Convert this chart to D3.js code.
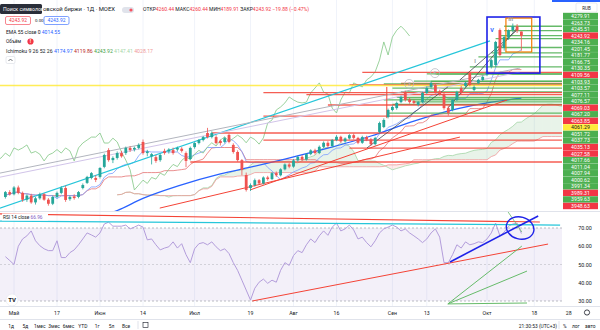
<!DOCTYPE html>
<html><head><meta charset="utf-8">
<script src="https://cdnjs.cloudflare.com/ajax/libs/d3/7.8.5/d3.min.js"></script>
<style>body{margin:0;background:#fff}svg{display:block;font-family:Roboto,'Liberation Sans',sans-serif}</style>
</head><body><svg id="chart" width="600" height="330"></svg>
<script>
// daily candles [open, high, low, close], May 2021 .. Oct 13 2021
const ohlc = [
  [3650,3672,3644,3668],[3668,3675,3655,3660],[3660,3690,3656,3685],[3685,3692,3660,3665],
  [3665,3670,3632,3640],[3640,3660,3632,3655],[3655,3662,3625,3630],[3630,3650,3622,3645],
  [3645,3666,3640,3660],[3660,3664,3636,3640],[3640,3646,3618,3625],[3625,3655,3620,3650],
  [3650,3670,3645,3665],[3665,3690,3660,3683],
  [3683,3692,3632,3639],[3642,3655,3636,3650],[3652,3660,3640,3646],[3650,3672,3645,3668],
  [3683,3700,3678,3694],[3702,3728,3698,3724],[3720,3742,3715,3738],[3720,3730,3705,3713],
  [3724,3760,3718,3757],[3761,3810,3756,3805],[3823,3830,3780,3786],[3786,3800,3775,3794],
  [3794,3818,3788,3812],[3812,3820,3795,3800],[3812,3836,3805,3831],[3831,3838,3816,3823],
  [3825,3836,3818,3831],[3831,3848,3826,3842],[3853,3862,3806,3812],[3812,3824,3800,3818],
  [3800,3812,3770,3808],[3797,3805,3776,3783],[3786,3810,3780,3805],[3820,3828,3806,3812],
  [3818,3830,3810,3825],[3823,3832,3806,3812],[3825,3836,3818,3831],[3828,3834,3814,3820],
  [3812,3818,3760,3783],[3790,3836,3785,3831],[3834,3852,3828,3849],[3849,3864,3844,3860],
  [3860,3875,3855,3871],[3886,3905,3866,3871],[3871,3892,3866,3886],[3871,3878,3844,3849],
  [3857,3862,3840,3849],[3853,3872,3848,3867],[3879,3884,3848,3853],[3842,3848,3810,3816],
  [3816,3822,3780,3786],[3786,3790,3730,3750],[3731,3740,3670,3676],[3683,3700,3672,3694],
  [3694,3718,3688,3712],[3712,3716,3695,3700],[3700,3726,3696,3722],[3722,3728,3710,3716],
  [3716,3742,3712,3738],[3738,3744,3724,3730],[3730,3756,3726,3752],[3752,3774,3748,3770],
  [3770,3776,3756,3762],[3762,3790,3758,3785],[3785,3802,3780,3798],[3798,3804,3782,3788],
  [3788,3812,3784,3808],[3808,3826,3804,3822],[3822,3828,3806,3812],[3812,3840,3808,3835],
  [3835,3855,3830,3850],[3850,3856,3832,3838],[3838,3864,3834,3860],[3860,3878,3856,3872],
  [3872,3876,3850,3855],[3855,3870,3850,3866],[3866,3882,3862,3878],[3878,3884,3862,3868],
  [3868,3872,3845,3850],
  [3850,3876,3846,3871],[3871,3876,3856,3862],[3862,3868,3838,3845],[3845,3872,3840,3868],
  [3890,3928,3885,3923],[3908,3940,3904,3934],[3945,3976,3940,3971],[3971,3988,3966,3982],
  [3978,4002,3972,3997],[4000,4024,3996,4019],[4034,4042,4002,4008],[4010,4016,3994,4000],
  [4004,4010,3990,3997],[3990,4004,3984,4000],[4000,4038,3996,4034],[4034,4058,4030,4052],
  [4056,4076,4050,4071],[4063,4070,4032,4037],[4040,4046,4024,4030],[4030,4034,3972,3978],
  [3978,3986,3950,3960],[3971,4012,3966,4008],[4008,4042,4004,4037],[4052,4060,4028,4034],
  [4060,4076,4054,4071],[4108,4114,4058,4063],[4045,4062,4040,4056],[4071,4086,4066,4082],
  [4082,4098,4078,4093],[4100,4116,4096,4112],[4130,4160,4124,4155],[4137,4226,4130,4222],
  [4266,4272,4168,4174],[4200,4245,4190,4240],[4238,4268,4230,4265],[4266,4290,4258,4280],
  [4280,4288,4255,4263.8],[4260.44,4260.44,4189.91,4243.92]
];

// RSI 14: [bar, value]
const rsiPoints = [
  [0,54.3],[1,52.2],[2,50],[3,60],[4,64],[5,65.7],[6,68.4],[7,63],[8,60.3],[9,58.6],[10,57.6],
  [11,57.6],[12,63],[13,53.8],[14,53.8],[15,56.5],[16,58],[17,60.8],[18,64],[19,67.3],[20,66.2],
  [21,65],[22,67.3],[23,72.2],[24,73.2],[25,71],[26,71],[27,71],[28,71.6],[29,69.5],[30,70.5],
  [31,71.6],[32,70.5],[33,63.5],[34,64],[35,60.8],[36,58],[37,59],[38,59.7],[39,62.4],[40,59],
  [41,61.4],[42,55.4],[43,51],[44,58.6],[45,61.4],[46,62],[47,60.8],[48,62.4],[49,59.7],[50,57.6],
  [51,58.6],[52,56],[53,51],[54,46.8],[55,41.4],[56,36],[57,30.5],[58,37],[59,40.3],[60,42],
  [61,39.7],[62,41.4],[63,40.3],[64,46.8],[65,51],[66,49.5],[67,54.9],[68,57.6],[69,56.5],[70,60.8],
  [71,64],[72,62],[73,65.7],[74,68.4],[75,66],[76,70.5],[77,72.7],[78,68.4],[79,69.5],[80,71.6],
  [81,68.9],[82,64],[83,65],[84,62],[85,59.7],[86,63],[87,67.3],[88,69.5],[89,70.5],[90,71.6],
  [91,70.5],[92,68.4],[93,69.5],[94,67.3],[95,65.7],[96,64],[97,62],[98,64],[99,67.3],[100,69.5],
  [101,65],[102,51],[103,51],[104,55.4],[105,60.8],[106,59],[107,62.4],[108,60.8],[109,61.4],[110,62.4],
  [111,62],[112,64],[113,67.3],[114,72.7],[115,65.7],[116,67.8],[117,71],[118,72.2],[119,72.7],[120,66.96]
];

// EMA 55: [bar, value]
const emaPoints = [[14,3540],[20,3570],[26,3600],[32,3645],[40,3690],[50,3735],[57,3760],[65,3790],
  [75,3830],[85,3875],[95,3930],[105,3975],[113,4000],[120,4014.55]];

// price-scale tags, top to bottom
const tags = [
  ['4279.91','g'],['4263.73','g'],['4245.51','g'],['4243.92','r'],['4234.16','g'],['4201.45','g'],
  ['4181.77','g'],['4166.75','g'],['4130.35','g'],['4109.56','r'],['4103.93','g'],['4103.57','g'],
  ['4077.11','g'],['4076.57','g'],['4069.03','r'],['4067.20','g'],['4063.85','r'],['4061.29','y'],
  ['4051.72','g'],['4037.73','g'],['4035.13','r'],['4027.58','r'],['4017.66','g'],['4011.04','g'],
  ['4007.94','g'],['4000.62','g'],['3991.34','g'],['3989.31','r'],['3959.63','g'],['3948.63','r']
];
// horizontal levels: [price, colour, first bar]
const levels = [
  [4279.91,'g',116],[4263.73,'g',116],[4245.51,'g',115],[4234.16,'g',114],[4201.45,'g',114],
  [4181.77,'g',113],[4166.75,'g',110],[4130.35,'g',108],[4109.56,'r',83],[4103.93,'g',98],
  [4103.57,'g',100],[4077.11,'g',95],[4076.57,'g',99],[4069.03,'r',92],[4067.20,'g',88],
  [4063.85,'r',80],[4061.29,'y',-2],[4051.72,'g',90],[4037.73,'g',92],[4035.13,'r',60],
  [4027.58,'r',70],[4017.66,'g',91],[4011.04,'g',93],[4007.94,'g',88],[4000.62,'g',95],
  [3991.34,'g',90],[3989.31,'r',75],[3959.63,'g',89],[3948.63,'r',60],
  [3886,'r',48],[3860,'r',60],[3830,'r',80],[3779,'r',43]
];
// sloped trend lines on the price pane: [bar1, price1, bar2, price2, colour, width]
const trendLines = [
  [-1.3,3609,112.7,4226,'#26c6da',1.2],
  [-1.3,3738,119.7,4126,'#b2b5be',1],
  [-1.3,3723,119.7,4111,'#d1c4e9',1],
  [35.9,3609,105.7,3871,'#f44336',1],
  [56.9,3676,116.7,4008,'#f44336',1],
  [88.7,4056,88.7,3941,'#f44336',1],
  [84.1,3831,102.9,4056,'#434651',0.8],
  [102.9,3978,119,4273,'#434651',0.8],
  [105.7,4082,119,4266,'#434651',0.8]
];
// numbered wave marks: [bar, price, label]
const waveMarks = [[93.9,4067,'3'],[99.9,4107,'5']];
// text marks: [bar, price, label, colour]
const textMarks = [[113.2,4259,'V','#2962ff'],[117.5,4300,'III','#9598a1'],[109.2,4145,'I','#9598a1']];
// boxes: [bar1, price1, bar2, price2, colour, width]
const boxes = [[112,4314,124.3,4107,'#1e22e8',1.6],[116.4,4310,122.4,4185,'#f57c00',1.2]];

// RSI pane drawings: [bar1, rsi1, bar2, rsi2, colour, width]
const rsiLines = [
  [-1.3,77.7,124.3,73.3,'#f44336',1.2],
  [-1.3,73.8,129,71.6,'#26c6da',1.2],
  [57.4,30,126.2,61.2,'#f44336',1],
  [103.4,51.4,123.9,76.6,'#1e22e8',1.6],
  [102.9,28.4,120.1,60.1,'#66bb6a',1],
  [102.9,28.4,121.3,46.4,'#66bb6a',1],
  [102.9,28.4,121.3,28.9,'#66bb6a',1],
  [116.9,78.8,120.1,67.8,'#66bb6a',0.8]
];
const rsiEllipse = [119.7,70];

// time axis: [bar, label]
const timeTicks = [[2,'Май'],[12,'17'],[22,'Июн'],[32,'14'],[44,'Июл'],[57,'19'],[67,'Авг'],
  [77,'16'],[90,'Сен'],[98,'13'],[112,'Окт'],[123,'18'],[131,'28']];
const rsiTicks = [70,60,50,40,30];

const svg = d3.select('#chart');
const plotR = 562, mainBot = 211, rsiTop = 212, rsiBot = 306;
const x = d3.scaleLinear().domain([0,131]).range([5.4,568.7]);
const y = d3.scaleLinear().domain([3598.25,4376.8]).range([mainBot,0]);
const yr = d3.scaleLinear().domain([30,70]).range([301,228]);
const GREEN = '#26a69a', RED = '#ef5350';
const lvlColor = {g:'#4caf50', r:'#f44336', y:'#ffeb3b'};

const defs = svg.append('defs');
defs.append('clipPath').attr('id','clipMain').append('rect').attr('x',0).attr('y',0).attr('width',plotR).attr('height',mainBot);
defs.append('clipPath').attr('id','clipRsi').append('rect').attr('x',0).attr('y',rsiTop).attr('width',plotR).attr('height',rsiBot-rsiTop);

svg.append('rect').attr('width',600).attr('height',330).attr('fill','#fff');

// vertical grid
svg.append('g').selectAll('line').data(timeTicks.filter(d => x(d[0]) < plotR)).enter().append('line')
  .attr('x1', d => x(d[0])).attr('x2', d => x(d[0])).attr('y1',0).attr('y2',rsiBot)
  .attr('stroke','#f0f3fa').attr('stroke-width',1);

// ---------- main pane ----------
const main = svg.append('g').attr('clip-path','url(#clipMain)');

// ichimoku from the candles
const hi = ohlc.map(d => d[1]), lo = ohlc.map(d => d[2]), cl = ohlc.map(d => d[3]);
function mid(i, n) {
  const s = Math.max(0, i - n + 1);
  return (d3.max(hi.slice(s, i + 1)) + d3.min(lo.slice(s, i + 1))) / 2;
}
const tenkan = ohlc.map((d, i) => [i, mid(i, 9)]);
const kijun = ohlc.map((d, i) => [i, mid(i, 26)]);
const spanA = ohlc.map((d, i) => [i + 26, (tenkan[i][1] + kijun[i][1]) / 2]);
const spanB = ohlc.map((d, i) => [i + 26, mid(i, 52)]);
const chikou = ohlc.map((d, i) => [i - 26, cl[i]]);

const line = d3.line().x(d => x(d[0])).y(d => y(d[1]));
for (let i = 0; i < spanA.length - 1; i++) {
  const a0 = spanA[i], a1 = spanA[i+1], b0 = spanB[i], b1 = spanB[i+1];
  const up = (a0[1] + a1[1]) >= (b0[1] + b1[1]);
  main.append('path')
    .attr('d', `M${x(a0[0])},${y(a0[1])}L${x(a1[0])},${y(a1[1])}L${x(b1[0])},${y(b1[1])}L${x(b0[0])},${y(b0[1])}Z`)
    .attr('fill', up ? 'rgba(67,160,71,0.12)' : 'rgba(244,67,54,0.10)');
}
main.append('path').datum(spanA).attr('d', line).attr('fill','none').attr('stroke','#a5d6a7').attr('stroke-width',0.8);
main.append('path').datum(spanB).attr('d', line).attr('fill','none').attr('stroke','#ef9a9a').attr('stroke-width',0.8);
main.append('path').datum(kijun).attr('d', line).attr('fill','none').attr('stroke','#e57373').attr('stroke-width',0.8);
main.append('path').datum(tenkan).attr('d', line).attr('fill','none').attr('stroke','#7b9cff').attr('stroke-width',0.8);
main.append('path').datum(chikou).attr('d', line).attr('fill','none').attr('stroke','#81c784').attr('stroke-width',0.8);

// EMA 55
main.append('path').datum(emaPoints).attr('d', d3.line().x(d => x(d[0])).y(d => y(d[1])).curve(d3.curveMonotoneX))
  .attr('fill','none').attr('stroke','#2962ff').attr('stroke-width',1.3);

// horizontal levels
main.append('g').selectAll('line').data(levels).enter().append('line')
  .attr('x1', d => x(d[2])).attr('x2', plotR)
  .attr('y1', d => y(d[0])).attr('y2', d => y(d[0]))
  .attr('stroke', d => lvlColor[d[1]]).attr('stroke-width', 1.3).attr('opacity', 0.85);

// trend lines
main.append('g').selectAll('line').data(trendLines).enter().append('line')
  .attr('x1', d => x(d[0])).attr('y1', d => y(d[1])).attr('x2', d => x(d[2])).attr('y2', d => y(d[3]))
  .attr('stroke', d => d[4]).attr('stroke-width', d => d[5]);

// candles
const cw = 2.8;
const candles = main.append('g').selectAll('g').data(ohlc).enter().append('g');
candles.append('line')
  .attr('x1', (d, i) => x(i)).attr('x2', (d, i) => x(i))
  .attr('y1', d => y(d[1])).attr('y2', d => y(d[2]))
  .attr('stroke', d => d[3] >= d[0] ? GREEN : RED).attr('stroke-width', 0.8);
candles.append('rect')
  .attr('x', (d, i) => x(i) - cw / 2).attr('width', cw)
  .attr('y', d => y(Math.max(d[0], d[3])))
  .attr('height', d => Math.max(0.8, Math.abs(y(d[0]) - y(d[3]))))
  .attr('fill', d => d[3] >= d[0] ? GREEN : RED);

// boxes
main.append('g').selectAll('rect').data(boxes).enter().append('rect')
  .attr('x', d => x(d[0])).attr('y', d => y(d[1]))
  .attr('width', d => x(d[2]) - x(d[0])).attr('height', d => y(d[3]) - y(d[1]))
  .attr('fill','none').attr('stroke', d => d[4]).attr('stroke-width', d => d[5]);

// wave marks
const wm = main.append('g').selectAll('g').data(waveMarks).enter().append('g')
  .attr('transform', d => `translate(${x(d[0])},${y(d[1])})`);
wm.append('circle').attr('r',4.5).attr('fill','none').attr('stroke','#b2b5be').attr('stroke-width',0.7);
wm.append('text').attr('y',2.2).attr('text-anchor','middle').attr('font-size',6).attr('fill','#b2b5be').text(d => d[2]);
main.append('g').selectAll('text').data(textMarks).enter().append('text')
  .attr('x', d => x(d[0])).attr('y', d => y(d[1])).attr('text-anchor','middle').attr('font-size',5.5)
  .attr('font-weight','bold').attr('fill', d => d[3]).text(d => d[2]);

// ---------- header ----------
const hdr = svg.append('g');
hdr.append('rect').attr('x',0).attr('y',4).attr('width',42).attr('height',10).attr('rx',1.5).attr('fill','#2a2e39');
hdr.append('text').attr('x',3).attr('y',11).attr('font-size',5.2).attr('fill','#fff').text('Поиск символов');
hdr.append('text').attr('x',43).attr('y',11).attr('font-size',5.6).attr('fill','#131722')
  .attr('textLength',72).attr('lengthAdjust','spacingAndGlyphs').text('овской биржи · 1Д · MOEX');
hdr.append('rect').attr('x',122).attr('y',7).attr('width',12).attr('height',6).attr('rx',3).attr('fill','#e0e3eb');
hdr.append('circle').attr('cx',131).attr('cy',10).attr('r',1.6).attr('fill','#f7525f');
const ohlcText = hdr.append('text').attr('x',143).attr('y',11).attr('font-size',4.9)
  .attr('textLength',166).attr('lengthAdjust','spacingAndGlyphs');
[['ОТКР','#131722'],['4260.44','#f23645'],[' МАКС','#131722'],['4260.44','#f23645'],[' МИН','#131722'],
 ['4189.91','#f23645'],[' ЗАКР','#131722'],['4243.92','#f23645'],[' −19.88 (−0.47%)','#f23645']]
  .forEach(s => ohlcText.append('tspan').attr('fill', s[1]).text(s[0]));

hdr.append('rect').attr('x',5.5).attr('y',16.5).attr('width',25).attr('height',8).attr('rx',1.5).attr('fill','#fff').attr('stroke','#f23645').attr('stroke-width',0.6);
hdr.append('text').attr('x',18).attr('y',22.4).attr('text-anchor','middle').attr('font-size',4.9).attr('fill','#f23645').text('4243.92');
hdr.append('text').attr('x',35).attr('y',22.4).attr('font-size',4.4).attr('fill','#131722').text('0.00');
hdr.append('rect').attr('x',44).attr('y',16.5).attr('width',25).attr('height',8).attr('rx',1.5).attr('fill','#fff').attr('stroke','#2962ff').attr('stroke-width',0.6);
hdr.append('text').attr('x',56.5).attr('y',22.4).attr('text-anchor','middle').attr('font-size',4.9).attr('fill','#2962ff').text('4243.92');

const emaT = hdr.append('text').attr('x',6).attr('y',33.5).attr('font-size',4.8)
  .attr('textLength',54).attr('lengthAdjust','spacingAndGlyphs');
emaT.append('tspan').attr('fill','#131722').text('EMA 55 close 0 ');
emaT.append('tspan').attr('fill','#2962ff').text('4014.55');
hdr.append('text').attr('x',6).attr('y',43).attr('font-size',4.8).attr('fill','#131722').text('Объём');
hdr.append('circle').attr('cx',30.5).attr('cy',41.5).attr('r',3.1).attr('fill','#f23645');
hdr.append('text').attr('x',30.5).attr('y',43.4).attr('text-anchor','middle').attr('font-size',4.8).attr('font-weight','bold').attr('fill','#fff').text('!');
const ichT = hdr.append('text').attr('x',6).attr('y',52.5).attr('font-size',4.8)
  .attr('textLength',147).attr('lengthAdjust','spacingAndGlyphs');
[['Ichimoku 9 26 52 26 ','#131722'],['4174.97 ','#2962ff'],['4119.86 ','#b71c1c'],['4243.92 ','#43a047'],
 ['4147.41 ','#a5d6a7'],['4028.17','#ef9a9a']].forEach(s => ichT.append('tspan').attr('fill', s[1]).text(s[0]));
hdr.append('rect').attr('x',6).attr('y',56.5).attr('width',9).attr('height',7).attr('rx',1.5).attr('fill','#fff').attr('stroke','#d1d4dc').attr('stroke-width',0.5);
hdr.append('path').attr('d','M8.5,61L10.5,59L12.5,61').attr('fill','none').attr('stroke','#131722').attr('stroke-width',0.6);

// ---------- price scale tags ----------
const tagY = d3.scalePoint().domain(d3.range(tags.length)).range([16, 206]);
const tg = svg.append('g').selectAll('g').data(tags).enter().append('g')
  .attr('transform', (d, i) => `translate(563,${tagY(i)})`);
tg.append('rect').attr('x',0).attr('y',-3.2).attr('width',35).attr('height',6.4)
  .attr('fill', d => d[1] === 'g' ? '#4caf50' : d[1] === 'r' ? '#f23645' : '#ffeb3b');
tg.append('text').attr('x',17.5).attr('y',2).attr('text-anchor','middle').attr('font-size',5.2)
  .attr('fill', d => d[1] === 'y' ? '#131722' : '#fff').text(d => d[0]);
svg.append('rect').attr('x',576).attr('y',3).attr('width',21).attr('height',9).attr('rx',1.5).attr('fill','#fff').attr('stroke','#d1d4dc').attr('stroke-width',0.5);
svg.append('text').attr('x',586.5).attr('y',9.5).attr('text-anchor','middle').attr('font-size',4.5).attr('fill','#131722').text('RUB');
svg.append('rect').attr('x',552).attr('y',0).attr('width',48).attr('height',2).attr('fill','#2962ff');

// pane separator
svg.append('line').attr('x1',0).attr('x2',600).attr('y1',rsiTop-0.5).attr('y2',rsiTop-0.5).attr('stroke','#e0e3eb');

// ---------- RSI pane ----------
const rsi = svg.append('g').attr('clip-path','url(#clipRsi)');
rsi.append('rect').attr('x',0).attr('width',plotR).attr('y',yr(70)).attr('height',yr(30)-yr(70)).attr('fill','rgba(126,87,194,0.09)');
rsi.append('g').selectAll('line').data([70,50,30]).enter().append('line')
  .attr('x1',0).attr('x2',plotR).attr('y1', d => yr(d)).attr('y2', d => yr(d))
  .attr('stroke','#9598a1').attr('stroke-dasharray','2,2').attr('stroke-width',0.7).attr('opacity', d => d === 50 ? 0.5 : 0.9);
const rline = d3.line().x(d => x(d[0])).y(d => yr(d[1]));
rsi.append('path').datum(rsiPoints).attr('d', rline).attr('fill','none').attr('stroke','#b39ddb').attr('stroke-width',1);
rsi.append('g').selectAll('line').data(rsiLines).enter().append('line')
  .attr('x1', d => x(d[0])).attr('y1', d => yr(d[1])).attr('x2', d => x(d[2])).attr('y2', d => yr(d[3]))
  .attr('stroke', d => d[4]).attr('stroke-width', d => d[5]);
rsi.append('ellipse').attr('cx', x(rsiEllipse[0])).attr('cy', yr(rsiEllipse[1])).attr('rx',14).attr('ry',11)
  .attr('transform', `rotate(15,${x(rsiEllipse[0])},${yr(rsiEllipse[1])})`)
  .attr('fill','none').attr('stroke','#1e22e8').attr('stroke-width',1.4);
// RSI legend
svg.append('rect').attr('x',2).attr('y',213.5).attr('width',46).attr('height',7).attr('fill','#fff');
const rsiT = svg.append('text').attr('x',3).attr('y',218.8).attr('font-size',4.8);
rsiT.append('tspan').attr('fill','#131722').text('RSI 14 close ');
rsiT.append('tspan').attr('fill','#7e57c2').text('66.96');

// RSI scale
svg.append('g').selectAll('text').data(rsiTicks).enter().append('text')
  .attr('x',585).attr('y', d => yr(d) + 2).attr('text-anchor','middle').attr('font-size',5.4).attr('fill','#131722')
  .text(d => d.toFixed(2));
// TV logo
svg.append('circle').attr('cx',12).attr('cy',300).attr('r',6).attr('fill','#fff').attr('stroke','#e0e3eb').attr('stroke-width',0.5);
svg.append('text').attr('x',12).attr('y',302.3).attr('text-anchor','middle').attr('font-size',6).attr('font-weight','bold').attr('fill','#131722').text('TV');

// ---------- time axis ----------
svg.append('line').attr('x1',0).attr('x2',600).attr('y1',rsiBot+0.5).attr('y2',rsiBot+0.5).attr('stroke','#e0e3eb');
svg.append('g').selectAll('text').data(timeTicks).enter().append('text')
  .attr('x', d => x(d[0])).attr('y',314.5).attr('text-anchor','middle').attr('font-size',5.2).attr('fill','#131722')
  .text(d => d[1]);
svg.append('circle').attr('cx',587).attr('cy',312.5).attr('r',2.6).attr('fill','none').attr('stroke','#131722').attr('stroke-width',0.8);

// ---------- bottom toolbar ----------
svg.append('line').attr('x1',0).attr('x2',600).attr('y1',319.5).attr('y2',319.5).attr('stroke','#e0e3eb');
const ranges = ['1д','5д','1мес','3мес','6мес','YTD','1г','5л','Все'];
const rx = d3.scalePoint().domain(ranges).range([11,126]);
svg.append('g').selectAll('text').data(ranges).enter().append('text')
  .attr('x', d => rx(d)).attr('y',328).attr('text-anchor','middle').attr('font-size',4.9).attr('fill','#131722').text(d => d);
svg.append('line').attr('x1',138).attr('x2',138).attr('y1',321).attr('y2',329).attr('stroke','#e0e3eb');
svg.append('rect').attr('x',143).attr('y',322.5).attr('width',5).attr('height',5).attr('fill','none').attr('stroke','#131722').attr('stroke-width',0.6);
svg.append('text').attr('x',557).attr('y',328).attr('text-anchor','end').attr('font-size',4.9).attr('fill','#131722').text('21:30:53 (UTC+3)');
svg.append('line').attr('x1',559).attr('x2',559).attr('y1',321).attr('y2',329).attr('stroke','#e0e3eb');
svg.append('text').attr('x',563).attr('y',328).attr('font-size',4.9).attr('fill','#131722').text('%');
svg.append('text').attr('x',572).attr('y',328).attr('font-size',4.9).attr('fill','#131722').text('лог');
svg.append('text').attr('x',585).attr('y',328).attr('font-size',4.9).attr('fill','#131722').text('авто');
</script></body></html>
